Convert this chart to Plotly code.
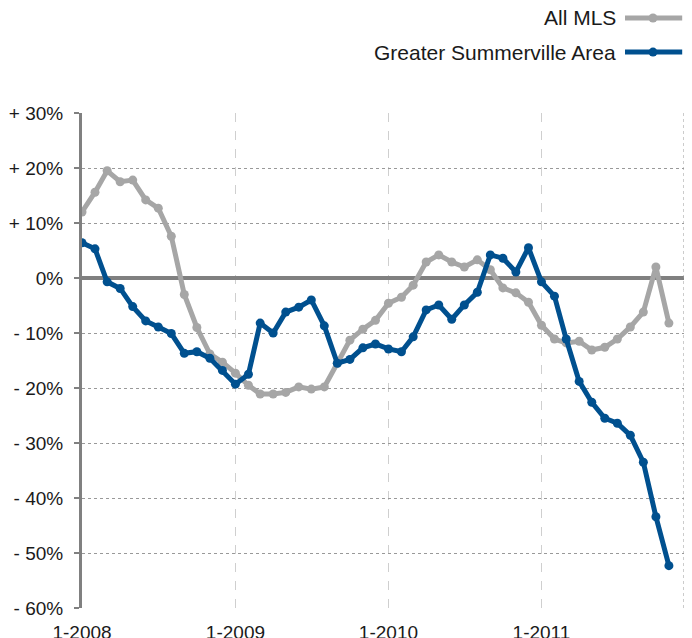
import plotly.graph_objects as go
import pandas as pd

months = pd.date_range("2008-01-01", "2011-11-01", freq="MS").strftime("%Y-%m-%d").tolist()

all_mls = [12.0, 15.6, 19.5, 17.5, 17.8, 14.2, 12.7, 7.6, -3.0, -9.0, -13.8, -15.3,
           -17.3, -19.5, -21.1, -21.1, -20.8, -19.8, -20.2, -19.8, -15.5, -11.3, -9.3, -7.7,
           -4.6, -3.5, -1.3, 2.9, 4.2, 2.9, 2.0, 3.3, 1.5, -1.8, -2.7, -4.4,
           -8.6, -11.1, -11.8, -11.5, -13.1, -12.6, -11.1, -8.9, -6.2, 2.0, -8.2]

summerville = [6.4, 5.3, -0.7, -1.9, -5.2, -7.8, -8.9, -10.1, -13.7, -13.4, -14.6, -16.8,
               -19.3, -17.5, -8.2, -10.0, -6.2, -5.3, -4.0, -8.7, -15.5, -14.8, -12.7, -12.0,
               -12.9, -13.4, -10.7, -5.8, -4.9, -7.5, -4.9, -2.6, 4.2, 3.6, 1.1, 5.5,
               -0.7, -3.3, -11.1, -18.8, -22.6, -25.5, -26.4, -28.6, -33.5, -43.4, -52.3]

y_ticks = [30, 20, 10, 0, -10, -20, -30, -40, -50, -60]
y_tick_labels = ["+ 30%", "+ 20%", "+ 10%", "0%", "- 10%", "- 20%", "- 30%", "- 40%", "- 50%", "- 60%"]
x_ticks = ["2008-01-01", "2009-01-01", "2010-01-01", "2011-01-01"]
x_tick_labels = ["1-2008", "1-2009", "1-2010", "1-2011"]

series_names = ["All MLS", "Greater Summerville Area"]
colors = ["#a6a6a6", "#00508f"]

FONT = "Liberation Sans, Arial, sans-serif"

fig = go.Figure()
for name, vals, col in zip(series_names, [all_mls, summerville], colors):
    fig.add_trace(go.Scatter(
        x=months, y=vals, mode="lines+markers", name=name,
        line=dict(color=col, width=5),
        marker=dict(color=col, size=9),
        showlegend=False,
    ))

fig.update_layout(
    width=684, height=630,
    margin=dict(l=74, r=8, t=105, b=30),
    paper_bgcolor="white", plot_bgcolor="white",
    font=dict(family=FONT, size=19, color="#1a1a1a"),
)

fig.update_xaxes(
    range=["2008-01-01", "2011-12-07"],
    tickvals=x_ticks, ticktext=x_tick_labels,
    showgrid=True, gridcolor="#cfcfcf", griddash="dash", gridwidth=1,
    showline=False, zeroline=False, ticks="",
    ticklabelstandoff=11, automargin=False,
    tickfont=dict(size=19, family=FONT, color="#1a1a1a"),
)
fig.update_yaxes(
    range=[-60, 30],
    tickvals=y_ticks, ticktext=y_tick_labels,
    showgrid=True, gridcolor="#999999", griddash="dot", gridwidth=1,
    showline=True, linecolor="#808080", linewidth=3,
    zeroline=True, zerolinecolor="#808080", zerolinewidth=4,
    ticks="outside", ticklen=5, tickwidth=2, tickcolor="#808080",
    ticklabelstandoff=7, automargin=False,
    tickfont=dict(size=19, family=FONT, color="#1a1a1a"),
)

# right border (dotted)
fig.add_shape(type="line", xref="paper", yref="paper", x0=1, x1=1, y0=0, y1=1,
              line=dict(color="#999999", width=1, dash="dot"))

# custom legend: text on the left, line sample on the right
leg_y = [1.192, 1.123]
for name, col, ly in zip(series_names, colors, leg_y):
    fig.add_annotation(xref="paper", yref="paper", x=0.890, y=ly, text=name,
                       showarrow=False, xanchor="right", yanchor="middle",
                       font=dict(size=21, family=FONT, color="#1a1a1a"))
    fig.add_shape(type="line", xref="paper", yref="paper", x0=0.902, x1=0.997, y0=ly, y1=ly,
                  line=dict(color=col, width=5))
    fig.add_shape(type="circle", xref="paper", yref="paper", xsizemode="pixel", ysizemode="pixel",
                  xanchor=0.9485, yanchor=ly, x0=-4.5, x1=4.5, y0=-4.5, y1=4.5,
                  fillcolor=col, line=dict(color=col, width=0))

fig.write_html("out.html")
